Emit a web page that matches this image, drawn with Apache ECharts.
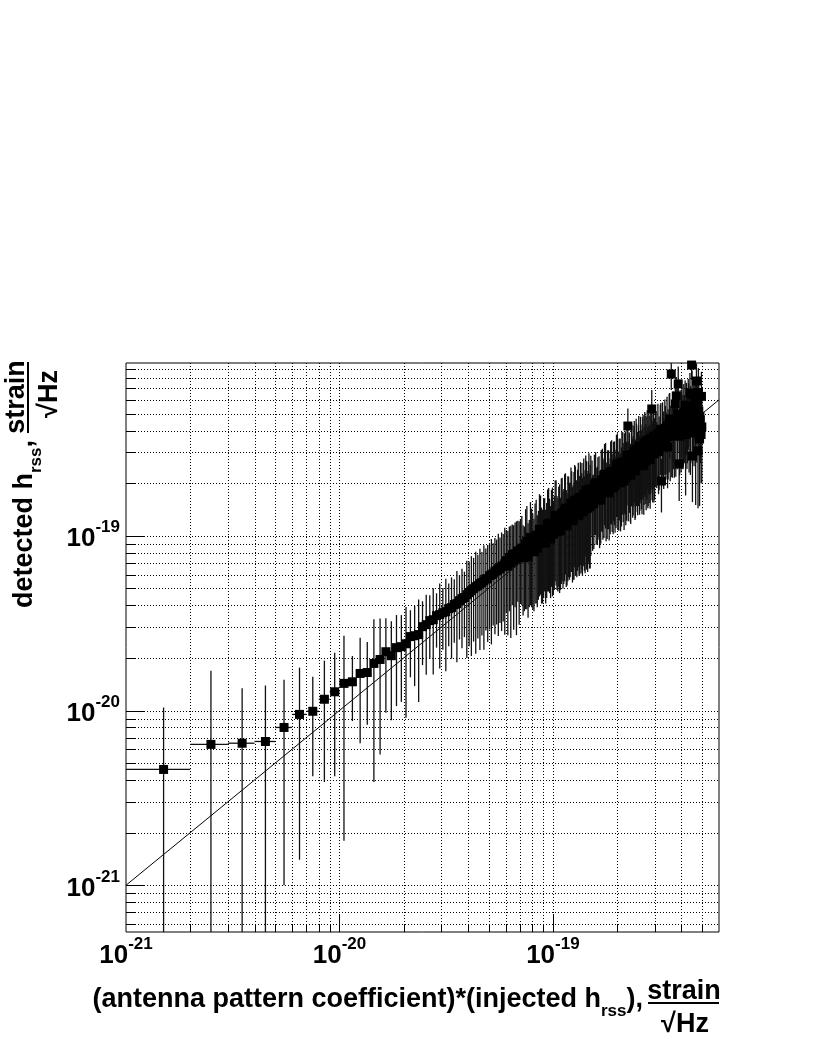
<!DOCTYPE html>
<html>
<head>
<meta charset="utf-8">
<title>detected vs injected h_rss</title>
<script src="https://cdn.jsdelivr.net/npm/echarts@6/dist/echarts.min.js"></script>
<style>
  html, body { margin: 0; padding: 0; background: #fff; }
  #chart { width: 814px; height: 1053px; }
</style>
</head>
<body>
<div id="chart"></div>
<script>
// all amplitudes are in units of 1e-21 strain/sqrt(Hz)
const binX = [
  1.5, 2.5, 3.5, 4.5, 5.5, 6.5, 7.5, 8.5, 9.5, 10.5, 11.5, 12.5, 13.5, 14.5, 15.5, 16.5, 17.5, 18.5,
  19.5, 20.5, 21.5, 22.5, 23.5, 24.5, 25.5, 26.5, 27.5, 28.5, 29.5, 30.5, 31.5, 32.5, 33.5, 34.5, 35.5,
  36.5, 37.5, 38.5, 39.5, 40.5, 41.5, 42.5, 43.5, 44.5, 45.5, 46.5, 47.5, 48.5, 49.5, 50.5, 51.5, 52.5,
  53.5, 54.5, 55.5, 56.5, 57.5, 58.5, 59.5, 60.5, 61.5, 62.5, 63.5, 64.5, 65.5, 66.5, 67.5, 68.5, 69.5, 70.5,
  71.5, 73.5, 75.5, 77.5, 79.5, 81.5, 83.5, 85.5, 87.5, 89.5, 91.5, 93.5, 95.5, 97.5, 99.5, 101.5, 103.5,
  105.5, 107.5, 109.5, 111.5, 113.5, 115.5, 117.5, 119.5, 121.5, 123.5, 125.5, 127.5, 129.5, 131.5, 133.5,
  135.5, 137.5, 139.5, 141.5, 143.5, 145.5, 147.5, 149.5,
  152.5, 155.5, 158.5, 161.5, 164.5, 167.5, 170.5, 173.5, 176.5, 179.5, 182.5, 185.5, 188.5, 191.5, 194.5,
  197.5, 200.5, 203.5, 206.5, 209.5, 212.5, 215.5, 218.5, 221.5, 224.5, 227.5, 230.5, 233.5, 236.5, 239.5,
  242.5, 245.5, 248.5, 251.5, 254.5, 257.5, 260.5, 263.5, 266.5, 269.5, 272.5, 275.5, 278.5, 281.5, 284.5,
  287.5, 290.5, 293.5, 296.5, 299.5,
  302.5, 306.5, 310.5, 314.5, 318.5, 322.5, 326.5, 330.5, 334.5, 338.5, 342.5, 346.5, 350.5, 354.5, 358.5,
  362.5, 366.5, 370.5, 374.5, 378.5, 382.5, 386.5, 390.5, 394.5, 398.5, 402.5, 406.5, 410.5, 414.5, 418.5,
  422.5, 426.5, 430.5, 434.5, 438.5, 442.5, 446.5, 450.5, 454.5, 458.5, 462.5, 466.5, 470.5, 474.5, 478.5,
  482.5, 486.5, 490.5, 494.5, 498.5,
  72.5, 74.5, 76.5, 78.5, 80.5, 82.5, 84.5, 86.5, 88.5, 90.5, 92.5, 94.5, 96.5, 98.5, 100.5, 102.5, 104.5,
  106.5, 108.5, 110.5, 112.5, 114.5, 116.5, 118.5, 120.5, 122.5, 124.5, 126.5, 128.5, 130.5, 132.5, 134.5,
  136.5, 138.5, 140.5, 142.5, 144.5, 146.5, 148.5, 150.5,
  153.5, 156.5, 159.5, 162.5, 165.5, 168.5, 171.5, 174.5, 177.5, 180.5, 183.5, 186.5, 189.5, 192.5, 195.5,
  198.5, 201.5, 204.5, 207.5, 210.5, 213.5, 216.5, 219.5, 222.5, 225.5, 228.5, 231.5, 234.5, 237.5, 240.5,
  243.5, 246.5, 249.5, 252.5, 255.5, 258.5, 261.5, 264.5, 267.5, 270.5, 273.5, 276.5, 279.5, 282.5, 285.5,
  288.5, 291.5, 294.5, 297.5,
  304.5, 312.5, 320.5, 328.5, 336.5, 344.5, 352.5, 360.5, 368.5, 376.5, 384.5, 392.5, 400.5, 408.5, 416.5,
  424.5, 432.5, 440.5, 448.5, 456.5, 464.5, 472.5, 480.5, 488.5, 496.5
]
const hrssY = [
  4.6, 6.4, 6.5, 6.65, 8.0, 9.5, 9.9, 11.6, 12.8, 14.3, 14.6, 16.3, 16.5, 18.6, 19.6, 21.7, 20.6, 22.9,
  23.2, 24.1, 26.5, 26.8, 27.2, 30.2, 31.0, 32.7, 33.1, 34.9, 35.4, 36.3, 36.8, 38.3, 38.8, 40.4, 40.9,
  42.5, 43.7, 44.3, 46.0, 47.3, 48.5, 49.8, 51.1, 51.8, 53.2, 53.9, 55.3, 56.7, 56.7, 59.1, 59.9, 60.7,
  62.3, 63.1, 64.7, 64.7, 66.5, 67.3, 69.1, 72, 67, 75, 70, 78, 72, 79, 74, 82, 76, 83,
  85, 75, 93, 81, 91, 81, 101, 91, 108, 91, 106, 99, 118, 96, 117, 109, 130,
  106, 122, 133, 115, 140, 117, 137, 128, 154, 122, 144, 154, 133, 164, 140,
  161, 137, 172, 149, 166, 144, 185, 160,
  185, 154, 201, 169, 190, 162, 210, 187, 225, 178, 209, 190, 234, 188, 231,
  211, 258, 202, 241, 217, 262, 206, 264, 234, 425, 263, 228, 293, 242, 287,
  235, 313, 265, 288, 252, 320, 272, 319, 252, 341, 294, 321, 279, 347, 294,
  342, 532, 297, 372, 316,
  350, 318, 385, 332, 392, 206, 400, 350, 412, 360, 425, 370, 440, 380, 843,
  395, 455, 400, 568, 631, 430, 740, 258, 465, 410, 490, 440, 510, 450, 380,
  520, 460, 550, 420, 656, 490, 949, 286, 520, 450, 580, 400, 769, 590, 306,
  518, 358, 460, 380, 420,
  75, 90, 76, 98, 86, 97, 85, 109, 93, 104, 91, 116, 105, 117, 102, 131, 109,
  121, 107, 135, 119, 144, 114, 138, 130, 148, 126, 160, 133, 151, 131, 166,
  146, 165, 141, 182, 151, 168, 147, 182,
  152, 196, 167, 190, 160, 208, 183, 225, 178, 209, 176, 232, 200, 233, 194,
  253, 206, 241, 201, 264, 230, 260, 215, 289, 233, 261, 222, 289, 251, 304,
  241, 293, 253, 325, 267, 293, 253, 329, 285, 327, 268, 353, 286, 329, 273,
  362, 308, 353, 295,
  368, 303, 406, 332, 389, 322, 466, 377, 446, 373, 499, 372, 476, 427, 559,
  411, 533, 388, 641, 462, 537, 442, 661, 483, 628
]
const hrssErr = [
  5.8, 10.5, 6.9, 7.25, 7.0, 8.1, 5.7, 7.7, 8.6, 12.5, 5.9, 9.8, 8.2, 14.7, 14.0, 12.0, 11.8, 12.3,
  12, 15, 11, 13, 16, 12, 15, 13, 17, 12, 18, 14, 20, 15, 19, 16, 22,
  17, 21, 18, 26, 24, 28, 25, 30, 26, 31, 27, 33, 28, 32, 30, 36, 30,
  35, 32, 38, 33, 38, 35, 42, 36, 40, 38, 44, 38, 43, 40, 47, 40, 45, 42,
  45, 38, 55, 42, 52, 44, 60, 48, 62, 50, 58, 55, 70, 52, 72, 60, 78,
  58, 75, 80, 65, 85, 66, 82, 72, 92, 68, 88, 95, 75, 98, 80,
  100, 78, 105, 88, 102, 82, 112, 95,
  85, 70, 100, 80, 95, 72, 105, 90, 115, 82, 100, 88, 118, 86, 116,
  100, 128, 95, 120, 104, 130, 98, 132, 112, 110, 128, 108, 145, 115, 140,
  112, 155, 128, 140, 120, 160, 130, 158, 120, 170, 142, 160, 135, 172, 140,
  168, 150, 142, 182, 155,
  160, 130, 185, 150, 170, 70, 180, 165, 190, 150, 200, 160, 210, 175, 160,
  180, 215, 185, 170, 180, 190, 190, 100, 215, 180, 220, 200, 230, 190, 210,
  230, 200, 240, 190, 200, 230, 170, 130, 240, 200, 230, 250, 200, 170, 162,
  210, 210, 200, 180, 220,
  40, 52, 42, 58, 48, 56, 46, 64, 52, 60, 50, 68, 58, 66, 56, 76, 60,
  70, 58, 80, 66, 84, 62, 80, 72, 86, 70, 94, 74, 88, 72, 98,
  82, 96, 78, 106, 84, 98, 82, 105,
  70, 95, 78, 92, 75, 102, 88, 110, 85, 100, 82, 115, 95, 112, 90,
  125, 98, 118, 95, 130, 110, 126, 100, 140, 112, 125, 105, 142, 120, 150,
  115, 145, 122, 160, 128, 140, 120, 162, 135, 160, 128, 170, 138, 158, 130,
  178, 148, 170, 140,
  150, 130, 170, 140, 165, 135, 190, 160, 185, 155, 200, 150, 195, 175, 215,
  170, 210, 165, 240, 185, 215, 180, 250, 195, 240
]
const binHalfWidth = 0.5
const fitX = [1, 600]
const fitY = [1, 600]
const tickValues = [1, 10, 100]
const tickExponents = ['-21', '-20', '-19']

const FONT = '"Liberation Sans", Arial, Helvetica, sans-serif'
const xMin = 1
const xMax = 600
const yMin = 0.54
const yMax = 975

// 1..9 x 10^k positions inside the axis range, flag = 1 on decades
function gridValues(lo, hi) {
  const out = []
  for (let d = -1; d <= 3; d++) {
    for (let m = 1; m <= 9; m++) {
      const v = +(m * Math.pow(10, d)).toPrecision(3)
      if (v > lo * 1.0001 && v < hi * 0.9999) out.push([v, m === 1 ? 1 : 0])
    }
  }
  return out
}

function decadeLabel(v) {
  const k = tickValues.findIndex(t => Math.abs(t - v) < t * 1e-6)
  return k < 0 ? '' : '{b|10}{e|' + tickExponents[k] + '}'
}

const labelRich = {
  b: { fontFamily: FONT, fontWeight: 'bold', fontSize: 26, color: '#000', padding: [7, 0, 0, 0] },
  e: { fontFamily: FONT, fontWeight: 'bold', fontSize: 17, color: '#000', verticalAlign: 'top' }
}

// axis titles, laid out with measured text widths
const ctx = document.createElement('canvas').getContext('2d')
function textWidth(str, size) {
  ctx.font = 'bold ' + size + 'px ' + FONT
  return ctx.measureText(str).width
}
function txt(str, size, x, y, align, rotation) {
  return {
    type: 'text', x: x, y: y, rotation: rotation || 0, silent: true,
    style: {
      text: str, fill: '#000', font: 'bold ' + size + 'px ' + FONT,
      align: align, textAlign: align, verticalAlign: 'middle', textVerticalAlign: 'middle'
    }
  }
}

const TS = 27
const SS = 17
const graphics = []

// x title
const xw1 = textWidth('(antenna pattern coefficient)*(injected h', TS)
const xw2 = textWidth('rss', SS)
const xw3 = textWidth('),', TS)
const xEnd = 643
const xStart = xEnd - xw1 - xw2 - xw3
graphics.push(txt('(antenna pattern coefficient)*(injected h', TS, xStart, 1000, 'left'))
graphics.push(txt('rss', SS, xStart + xw1, 1011, 'left'))
graphics.push(txt('),', TS, xStart + xw1 + xw2, 1000, 'left'))
graphics.push(txt('strain', TS, 684, 992, 'center'))
graphics.push({ type: 'line', silent: true, shape: { x1: 648, y1: 1003, x2: 719, y2: 1003 }, style: { stroke: '#000', lineWidth: 2 } })
graphics.push(txt('\u221AHz', TS, 685, 1025, 'center'))

// y title (rotated, reads bottom to top)
const R = Math.PI / 2
const yw1 = textWidth('detected h', TS)
const yw2 = textWidth('rss', SS)
const yw3 = textWidth(',', TS)
const yStart = 440 + yw1 + yw2 + yw3
graphics.push(txt('detected h', TS, 25, yStart, 'left', R))
graphics.push(txt('rss', SS, 36, yStart - yw1, 'left', R))
graphics.push(txt(',', TS, 25, yStart - yw1 - yw2, 'left', R))
graphics.push(txt('strain', TS, 17, 397, 'center', R))
graphics.push({ type: 'line', silent: true, shape: { x1: 28, y1: 362, x2: 28, y2: 433 }, style: { stroke: '#000', lineWidth: 2 } })
graphics.push(txt('\u221AHz', TS, 50, 394, 'center', R))

const chart = echarts.init(document.getElementById('chart'))

chart.setOption({
  animation: false,
  backgroundColor: '#fff',
  grid: {
    left: 126, top: 363, width: 593, height: 569,
    show: true, borderColor: '#000', borderWidth: 1, backgroundColor: 'transparent',
    containLabel: false, outerBoundsMode: 'none'
  },
  xAxis: {
    type: 'log', logBase: 10, min: xMin, max: xMax,
    axisLine: { show: false }, axisTick: { show: false }, splitLine: { show: false },
    axisLabel: { margin: 4, showMinLabel: true, showMaxLabel: true, formatter: decadeLabel, rich: labelRich }
  },
  yAxis: {
    type: 'log', logBase: 10, min: yMin, max: yMax,
    axisLine: { show: false }, axisTick: { show: false }, splitLine: { show: false },
    axisLabel: { margin: 6, showMinLabel: true, showMaxLabel: true, formatter: decadeLabel, rich: labelRich }
  },
  graphic: graphics,
  series: [
    {
      // vertical grid lines + bottom ticks
      type: 'custom', z: 1, silent: true,
      data: gridValues(xMin, xMax).map(g => [g[0], 1, g[1]]),
      encode: { x: 0, y: 1 },
      renderItem(params, api) {
        const cs = params.coordSys
        const x = Math.round(api.coord([api.value(0), 1])[0]) + 0.5
        const bottom = cs.y + cs.height
        const len = api.value(2) ? 18 : 7
        return {
          type: 'group',
          children: [
            { type: 'line', shape: { x1: x, y1: cs.y, x2: x, y2: bottom }, style: { stroke: '#000', lineWidth: 1, lineDash: [1, 2] } },
            { type: 'line', shape: { x1: x, y1: bottom, x2: x, y2: bottom - len }, style: { stroke: '#000', lineWidth: 1 } }
          ]
        }
      }
    },
    {
      // horizontal grid lines + left ticks
      type: 'custom', z: 1, silent: true,
      data: gridValues(yMin, yMax).map(g => [1, g[0], g[1]]),
      encode: { x: 0, y: 1 },
      renderItem(params, api) {
        const cs = params.coordSys
        const y = Math.round(api.coord([1, api.value(1)])[1]) + 0.5
        const len = api.value(2) ? 18 : 10
        return {
          type: 'group',
          children: [
            { type: 'line', shape: { x1: cs.x, y1: y, x2: cs.x + cs.width, y2: y }, style: { stroke: '#000', lineWidth: 1, lineDash: [1, 2] } },
            { type: 'line', shape: { x1: cs.x, y1: y, x2: cs.x + len, y2: y }, style: { stroke: '#000', lineWidth: 1 } }
          ]
        }
      }
    },
    {
      type: 'line', z: 2, silent: true,
      data: fitX.map((x, i) => [x, fitY[i]]),
      symbol: 'none',
      lineStyle: { color: '#000', width: 1 }
    },
    {
      // error bars
      type: 'custom', z: 3, silent: true,
      data: binX.map((x, i) => [x, hrssY[i], hrssErr[i]]),
      encode: { x: 0, y: 1 },
      renderItem(params, api) {
        const cs = params.coordSys
        const x = api.value(0)
        const y = api.value(1)
        const e = api.value(2)
        const c = api.coord([x, y])
        const top = Math.max(cs.y, api.coord([x, y + e])[1])
        const lo = y - e
        const bottom = lo > 0 ? Math.min(cs.y + cs.height, api.coord([x, lo])[1]) : cs.y + cs.height
        const left = Math.max(cs.x, api.coord([x - binHalfWidth, y])[0])
        const right = api.coord([x + binHalfWidth, y])[0]
        const st = { stroke: '#111', lineWidth: 1.3 }
        return {
          type: 'group',
          children: [
            { type: 'line', shape: { x1: c[0], y1: top, x2: c[0], y2: bottom }, style: st },
            { type: 'line', shape: { x1: left, y1: c[1], x2: right, y2: c[1] }, style: st }
          ]
        }
      }
    },
    {
      type: 'scatter', z: 4, silent: true,
      data: binX.map((x, i) => [x, hrssY[i]]),
      symbol: 'rect', symbolSize: 9,
      itemStyle: { color: '#000', opacity: 1 }
    }
  ]
})
</script>
</body>
</html>
